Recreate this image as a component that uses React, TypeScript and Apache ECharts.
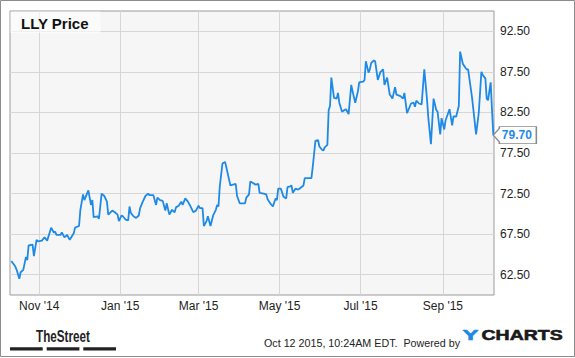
import React, { useEffect, useRef } from 'react';
import * as echarts from 'echarts';

const title = 'LLY Price';
const footerText = 'Oct 12 2015, 10:24AM EDT.  Powered by';

const dates = [
  '2014-10-11','2014-10-14','2014-10-15','2014-10-17','2014-10-18','2014-10-20','2014-10-22','2014-10-23','2014-10-24','2014-10-27',
  '2014-10-28','2014-10-30','2014-10-31','2014-11-03','2014-11-05','2014-11-07','2014-11-10','2014-11-12','2014-11-13','2014-11-14',
  '2014-11-17','2014-11-18','2014-11-20','2014-11-22','2014-11-24','2014-11-27','2014-11-28','2014-12-01','2014-12-02','2014-12-04',
  '2014-12-05','2014-12-08','2014-12-10','2014-12-11','2014-12-12','2014-12-15','2014-12-16','2014-12-18','2014-12-20','2014-12-22',
  '2014-12-23','2014-12-26','2014-12-28','2014-12-30','2014-12-31','2015-01-02','2015-01-03','2015-01-05','2015-01-07','2015-01-08',
  '2015-01-09','2015-01-11','2015-01-13','2015-01-15','2015-01-16','2015-01-18','2015-01-20','2015-01-22','2015-01-23','2015-01-26',
  '2015-01-28','2015-01-29','2015-01-31','2015-02-02','2015-02-04','2015-02-05','2015-02-07','2015-02-09','2015-02-11','2015-02-12',
  '2015-02-14','2015-02-16','2015-02-17','2015-02-19','2015-02-21','2015-02-23','2015-02-25','2015-02-27','2015-03-01','2015-03-02',
  '2015-03-04','2015-03-05','2015-03-07','2015-03-08','2015-03-10','2015-03-12','2015-03-14','2015-03-15','2015-03-16','2015-03-17',
  '2015-03-19','2015-03-21','2015-03-24','2015-03-25','2015-03-27','2015-03-29','2015-03-30','2015-04-01','2015-04-03','2015-04-05',
  '2015-04-06','2015-04-08','2015-04-09','2015-04-11','2015-04-13','2015-04-15','2015-04-16','2015-04-19','2015-04-21','2015-04-22',
  '2015-04-24','2015-04-26','2015-04-28','2015-04-29','2015-04-30','2015-05-02','2015-05-04','2015-05-06','2015-05-07','2015-05-09',
  '2015-05-10','2015-05-11','2015-05-13','2015-05-15','2015-05-16','2015-05-19','2015-05-20','2015-05-23','2015-05-25','2015-05-26',
  '2015-05-28','2015-05-30','2015-05-31','2015-06-02','2015-06-03','2015-06-04','2015-06-06','2015-06-07','2015-06-08','2015-06-09',
  '2015-06-11','2015-06-13','2015-06-14','2015-06-15','2015-06-17','2015-06-19','2015-06-20','2015-06-22','2015-06-24','2015-06-25',
  '2015-06-27','2015-06-29','2015-06-30','2015-07-03','2015-07-04','2015-07-05','2015-07-07','2015-07-08','2015-07-09','2015-07-11',
  '2015-07-12','2015-07-14','2015-07-16','2015-07-18','2015-07-19','2015-07-21','2015-07-23','2015-07-24','2015-07-25','2015-07-27',
  '2015-07-28','2015-07-31','2015-08-02','2015-08-03','2015-08-05','2015-08-06','2015-08-08','2015-08-10','2015-08-11','2015-08-12',
  '2015-08-14','2015-08-16','2015-08-18','2015-08-20','2015-08-21','2015-08-23','2015-08-25','2015-08-27','2015-08-28','2015-08-30',
  '2015-08-31','2015-09-02','2015-09-03','2015-09-06','2015-09-08','2015-09-09','2015-09-11','2015-09-13','2015-09-14','2015-09-16',
  '2015-09-18','2015-09-19','2015-09-20','2015-09-23','2015-09-26','2015-09-28','2015-09-30','2015-10-01','2015-10-03','2015-10-04',
  '2015-10-05','2015-10-07','2015-10-08','2015-10-09'
];

const prices = [
  64.2,63.5,63.1,62.0,62.8,63.1,64.7,64.3,66.1,66.2,
  64.8,66.8,66.6,66.7,67.1,66.7,68.3,67.7,67.8,67.4,
  67.4,67.7,67.1,67.4,66.8,67.6,68.3,68.5,70.5,72.4,
  71.7,72.9,71.1,71.7,69.6,69.7,69.4,72.5,72.2,71.5,
  69.9,70.4,70.2,69.9,69.1,69.8,69.7,69.3,69.2,70.9,
  70.1,69.7,69.5,69.8,70.7,71.5,72.2,72.5,72.3,72.3,
  71.1,72.0,71.7,71.6,70.4,71.3,69.9,70.5,70.2,70.8,
  71.0,71.5,71.1,71.9,71.5,70.9,70.2,70.4,71.0,70.7,
  70.7,68.5,69.1,69.7,68.5,69.8,70.5,71.1,70.9,73.4,
  76.2,76.4,74.2,73.5,73.6,73.7,72.2,71.3,71.3,71.3,
  72.0,72.4,74.0,73.8,73.6,73.7,72.6,72.5,72.4,71.8,
  71.3,70.9,71.9,71.7,73.1,73.1,72.1,71.9,73.3,73.4,
  73.5,72.6,73.1,73.0,73.1,73.5,74.4,74.4,74.4,75.8,
  79.0,79.1,78.3,77.9,77.8,78.2,78.5,82.8,83.3,86.8,
  84.3,84.2,84.9,83.7,82.6,82.8,82.9,82.3,85.9,85.1,
  83.7,85.1,86.2,86.3,86.5,88.8,87.4,87.8,88.6,88.9,
  88.8,86.5,87.5,87.8,85.9,86.8,84.7,84.5,84.2,85.6,
  84.7,84.5,84.2,84.9,82.4,82.8,83.6,83.7,83.2,83.95,
  83.6,83.5,87.8,84.2,81.9,78.6,84.2,82.8,82.6,79.8,
  81.8,80.4,81.5,82.9,80.9,82.0,82.0,83.3,90.0,88.5,
  88.0,87.8,87.8,84.3,79.8,82.4,87.5,87.1,86.7,84.2,
  84.0,86.2,82.8,79.7
];

const yTickValues = [62.5, 67.5, 72.5, 77.5, 82.5, 87.5, 92.5];
const xTickDates = ['2014-11-01', '2015-01-01', '2015-03-01', '2015-05-01', '2015-07-01', '2015-09-01'];
const monthNames = ['Jan', 'Feb', 'Mar', 'Apr', 'May', 'Jun', 'Jul', 'Aug', 'Sep', 'Oct', 'Nov', 'Dec'];

const toTs = (s: string) => {
  const [y, m, d] = s.split('-').map(Number);
  return new Date(y, m - 1, d).getTime();
};

const FONT = '"Liberation Sans", Arial, sans-serif';
const BLUE = '#1f8ae6';

export default function App() {
  const ref = useRef<HTMLDivElement>(null);

  useEffect(() => {
    if (!ref.current) return;
    const chart = echarts.init(ref.current, null, { renderer: 'svg' });
    const seriesData = dates.map((d, i) => [toTs(d), prices[i]]);
    const xTicks = xTickDates.map(toTs);
    const last = seriesData[seriesData.length - 1];

    chart.setOption({
      animation: false,
      backgroundColor: '#ffffff',
      textStyle: { fontFamily: FONT },
      grid: {
        left: 10, top: 11, width: 484, height: 284,
        show: true, backgroundColor: '#f6f6f6', borderColor: '#9a9a9a', borderWidth: 1,
        containLabel: false, outerBoundsMode: 'none'
      },
      xAxis: {
        type: 'value',
        scale: true,
        min: toTs('2014-10-10'),
        max: new Date(2015, 9, 9, 12).getTime(),
        axisLine: { show: false },
        axisTick: { show: false, customValues: xTicks },
        axisLabel: {
          customValues: xTicks,
          color: '#222', fontSize: 12, fontFamily: FONT, margin: 5, hideOverlap: false,
          formatter: (v: number) => {
            const d = new Date(v);
            return monthNames[d.getMonth()] + " '" + String(d.getFullYear()).slice(2);
          }
        },
        splitLine: { show: true, lineStyle: { color: '#d6d6d6', width: 1 } }
      },
      yAxis: {
        type: 'value',
        position: 'right',
        min: 60, max: 95,
        axisLine: { show: false },
        axisTick: { show: false, customValues: yTickValues },
        axisLabel: {
          customValues: yTickValues,
          color: '#222', fontSize: 12, fontFamily: FONT, margin: 6,
          formatter: (v: number) => v.toFixed(2)
        },
        splitLine: { show: true, lineStyle: { color: '#d6d6d6', width: 1 } }
      },
      series: [{
        type: 'line',
        data: seriesData,
        showSymbol: false,
        clip: false,
        lineStyle: { color: BLUE, width: 1.8 },
        itemStyle: { color: BLUE },
        markPoint: {
          symbol: 'path://M0,8.5 L6,1.8 L6,0 L43,0 L43,17 L6,17 L6,15.2 Z',
          symbolSize: [43, 17],
          symbolKeepAspect: false,
          symbolOffset: [21.5, 0],
          itemStyle: { color: '#ffffff', borderColor: '#8a8a8a', borderWidth: 1 },
          label: {
            show: true, position: 'inside', offset: [2, 0],
            color: BLUE, fontWeight: 'bold', fontSize: 12, fontFamily: FONT,
            formatter: (p: any) => Number(p.value).toFixed(2)
          },
          data: [{ coord: last, value: last[1] }]
        }
      }],
      graphic: [
        { type: 'rect', silent: true, z: 100, shape: { x: 0.5, y: 0.5, width: 574, height: 356 }, style: { fill: 'none', stroke: '#8c8c8c', lineWidth: 1 } },
        { type: 'rect', silent: true, z: 10, shape: { x: 10.5, y: 11.5, width: 90, height: 21.5 }, style: { fill: 'rgba(255,255,255,0.6)' } },
        { type: 'text', silent: true, z: 11, x: 21, y: 23, style: { text: title, font: 'bold 15px ' + FONT, fill: '#111', verticalAlign: 'middle' } },
        { type: 'text', silent: true, z: 11, x: 36, y: 336, scaleX: 0.73, style: { text: 'TheStreet', font: 'bold 16px ' + FONT, fill: '#222', verticalAlign: 'middle' } },
        { type: 'rect', silent: true, z: 11, shape: { x: 10, y: 347.3, width: 32.7, height: 3.3 }, style: { fill: '#222' } },
        { type: 'rect', silent: true, z: 11, shape: { x: 46.7, y: 347.3, width: 32.7, height: 3.3 }, style: { fill: '#222' } },
        { type: 'rect', silent: true, z: 11, shape: { x: 83.3, y: 347.3, width: 32.7, height: 3.3 }, style: { fill: '#222' } },
        { type: 'text', silent: true, z: 11, x: 264, y: 343, scaleX: 0.975, style: { text: footerText, font: '11px ' + FONT, fill: '#222', verticalAlign: 'middle' } },
        { type: 'text', silent: true, z: 11, x: 462.5, y: 335, scaleX: 1.6, style: { text: 'Y', font: 'bold 15px ' + FONT, fill: BLUE, stroke: BLUE, lineWidth: 0.6, verticalAlign: 'middle' } },
        { type: 'text', silent: true, z: 11, x: 481.5, y: 335, scaleX: 1.3, style: { text: 'CHARTS', font: 'bold 15px ' + FONT, fill: '#1a1a1a', stroke: '#1a1a1a', lineWidth: 0.6, verticalAlign: 'middle' } }
      ]
    });

    return () => chart.dispose();
  }, []);

  return <div ref={ref} style={{ position: 'absolute', left: 0, top: 0, width: 575, height: 358 }} />;
}
